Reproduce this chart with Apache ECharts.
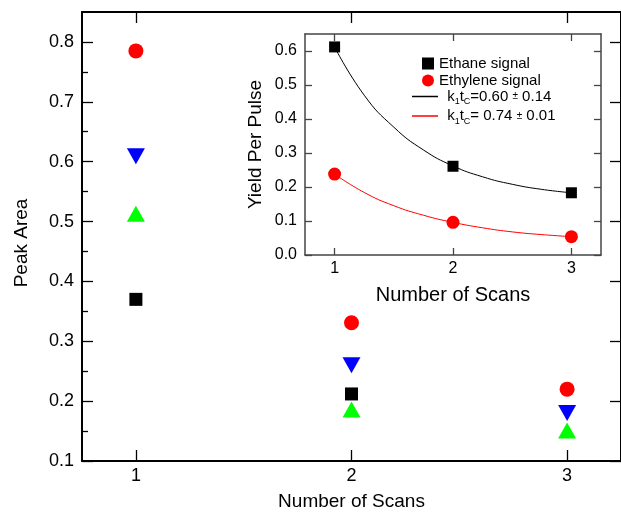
<!DOCTYPE html>
<html>
<head>
<meta charset="utf-8">
<script src="https://cdn.jsdelivr.net/npm/echarts@6/dist/echarts.min.js"></script>
<style>html,body{margin:0;padding:0;background:#fff;}#c{width:621px;height:519px;}</style>
</head>
<body>
<div id="c"></div>
<script>
// ---- data ----
const scans = [1, 2, 3];
const peakSquare = [0.370, 0.212, null];
const peakCircle = [0.785, 0.331, 0.220];
const peakDown = [0.609, 0.260, 0.180];
const peakUp = [0.513, 0.186, 0.151];
const insetEthane = [0.612, 0.261, 0.183];
const insetEthylene = [0.238, 0.096, 0.054];
const fitX = [1, 1.25, 1.5, 1.75, 2, 2.25, 2.5, 2.75, 3];
const fitEthane = [0.612, 0.470, 0.376, 0.309, 0.262, 0.230, 0.208, 0.193, 0.183];
const fitEthylene = [0.238, 0.184, 0.145, 0.117, 0.096, 0.080, 0.068, 0.060, 0.054];
const mainYTicks = [0.1, 0.2, 0.3, 0.4, 0.5, 0.6, 0.7, 0.8];
const mainYMinor = [0.15, 0.25, 0.35, 0.45, 0.55, 0.65, 0.75];
const insetYTicks = [0.0, 0.1, 0.2, 0.3, 0.4, 0.5, 0.6];
const legendSymbols = ['Ethane signal', 'Ethylene signal'];
const legendFits = ['k1tC=0.60 ± 0.14', 'k1tC= 0.74 ± 0.01'];

const FONT = "'Liberation Sans', Arial, sans-serif";
const zip = (xs, ys) => xs.map((x, i) => [x, ys[i] == null ? '-' : ys[i]]);

function xAx(grid, pos, labels, lineColor, lw, tickLen, fs, name, nameGap, nameFs) {
  return {
    gridIndex: grid, type: 'value', min: 0.75, max: 3.25, position: pos,
    axisLine: {show: true, onZero: false, lineStyle: {color: lineColor, width: lw}},
    axisTick: {show: true, inside: true, length: tickLen, customValues: scans, lineStyle: {color: lineColor, width: 1.3}},
    axisLabel: labels ? {show: true, customValues: scans, fontSize: fs, color: '#000', fontFamily: FONT, margin: 6} : {show: false},
    splitLine: {show: false},
    name: name || '', nameLocation: 'middle', nameGap: nameGap || 0,
    nameTextStyle: {fontSize: nameFs || 12, color: '#000', fontFamily: FONT}
  };
}
function yAx(grid, pos, min, max, ticks, showLine, labels, lineColor, lw, tickLen, fs, name, nameGap, nameFs) {
  return {
    gridIndex: grid, type: 'value', min: min, max: max, position: pos,
    axisLine: {show: showLine, onZero: false, lineStyle: {color: lineColor, width: lw}},
    axisTick: {show: true, inside: true, length: tickLen, customValues: ticks, lineStyle: {color: lineColor, width: 1.3}},
    axisLabel: labels ? {show: true, customValues: ticks, fontSize: fs, color: '#000', fontFamily: FONT, margin: 8,
      formatter: v => Number(v).toFixed(1)} : {show: false},
    splitLine: {show: false},
    name: name || '', nameLocation: 'middle', nameGap: nameGap || 0,
    nameTextStyle: {fontSize: nameFs || 12, color: '#000', fontFamily: FONT}
  };
}

const fitRich = {
  n: {fontSize: 15, fontFamily: FONT, color: '#000', lineHeight: 20},
  s: {fontSize: 9, fontFamily: FONT, color: '#000', lineHeight: 11, verticalAlign: 'bottom'},
  pm: {fontSize: 10, fontFamily: FONT, color: '#000', lineHeight: 20}
};
function fitLabel(name) {
  const m = name.match(/^k1tC=(\s?)([\d.]+) ± ([\d.]+)$/);
  return '{n|k}{s|1}{n|t}{s|C}{n|=' + m[1] + m[2] + ' }{pm|±}{n| ' + m[3] + '}';
}

const solid = c => ({color: c, opacity: 1});

const option = {
  animation: false,
  backgroundColor: '#fff',
  textStyle: {fontFamily: FONT},
  grid: [
    {left: 82, top: 12, width: 548, height: 449},
    {left: 305, top: 34, width: 296, height: 221, show: true, backgroundColor: '#fff', borderWidth: 0}
  ],
  xAxis: [
    xAx(0, 'bottom', true, '#000', 2, 11, 18, 'Number of Scans', 31, 19),
    xAx(0, 'top', false, '#000', 2, 11),
    xAx(1, 'bottom', true, '#444', 1.5, 7, 16, 'Number of Scans', 30, 20),
    xAx(1, 'top', false, '#444', 1.5, 7)
  ],
  yAxis: [
    yAx(0, 'left', 0.1, 0.85, mainYTicks, true, true, '#000', 2, 11, 18),
    yAx(0, 'left', 0.1, 0.85, mainYMinor, false, false, '#000', 2, 6),
    yAx(0, 'right', 0.1, 0.85, mainYTicks, true, false, '#000', 2, 11),
    yAx(1, 'left', 0, 0.65, insetYTicks, true, true, '#444', 1.5, 7, 16, 'Yield Per Pulse', 40, 19),
    yAx(1, 'right', 0, 0.65, insetYTicks, true, false, '#444', 1.5, 7)
  ],
  graphic: [
    {type: 'text', x: 22, y: 243, rotation: Math.PI / 2,
      style: {text: 'Peak Area', fontSize: 19, fontFamily: FONT, fill: '#000', align: 'center', verticalAlign: 'middle'}}
  ],
  legend: [
    {
      orient: 'vertical', left: 417, top: 50, itemWidth: 12, itemHeight: 12, itemGap: 0,
      data: [{name: legendSymbols[0], icon: 'rect'}, {name: legendSymbols[1], icon: 'circle'}],
      textStyle: {fontSize: 15, color: '#000', fontFamily: FONT, lineHeight: 17},
      selectedMode: false
    },
    {
      orient: 'vertical', left: 407, top: 84, itemWidth: 26, itemHeight: 1.5, itemGap: 2,
      data: [{name: legendFits[0], icon: 'rect'}, {name: legendFits[1], icon: 'rect'}],
      formatter: n => ' ' + fitLabel(n),
      textStyle: {fontSize: 15, color: '#000', fontFamily: FONT, rich: fitRich},
      selectedMode: false
    }
  ],
  series: [
    {type: 'scatter', name: 'main1', xAxisIndex: 0, yAxisIndex: 0, symbol: 'rect', symbolSize: 13,
      itemStyle: solid('#000'), data: zip(scans, peakSquare)},
    {type: 'scatter', name: 'main4', xAxisIndex: 0, yAxisIndex: 0, symbol: 'triangle', symbolSize: [18, 16],
      itemStyle: solid('#00ff00'), data: zip(scans, peakUp)},
    {type: 'scatter', name: 'main3', xAxisIndex: 0, yAxisIndex: 0, symbol: 'triangle', symbolRotate: 180, symbolSize: [18, 16],
      itemStyle: solid('#0000ff'), data: zip(scans, peakDown)},
    {type: 'scatter', name: 'main2', xAxisIndex: 0, yAxisIndex: 0, symbol: 'circle', symbolSize: 15,
      itemStyle: solid('#ff0000'), data: zip(scans, peakCircle)},
    {type: 'line', name: legendFits[0], xAxisIndex: 2, yAxisIndex: 3, showSymbol: false, symbol: 'none',
      smooth: 0.5, color: '#000', lineStyle: {color: '#000', width: 1}, data: zip(fitX, fitEthane)},
    {type: 'line', name: legendFits[1], xAxisIndex: 2, yAxisIndex: 3, showSymbol: false, symbol: 'none',
      smooth: 0.5, color: '#ff0000', lineStyle: {color: '#ff0000', width: 1}, data: zip(fitX, fitEthylene)},
    {type: 'scatter', name: legendSymbols[0], xAxisIndex: 2, yAxisIndex: 3, symbol: 'rect', symbolSize: 11,
      itemStyle: solid('#000'), data: zip(scans, insetEthane)},
    {type: 'scatter', name: legendSymbols[1], xAxisIndex: 2, yAxisIndex: 3, symbol: 'circle', symbolSize: 13,
      itemStyle: solid('#ff0000'), data: zip(scans, insetEthylene)}
  ]
};
const chart = echarts.init(document.getElementById('c'), null, {renderer: 'canvas'});
chart.setOption(option);
</script>
</body>
</html>
